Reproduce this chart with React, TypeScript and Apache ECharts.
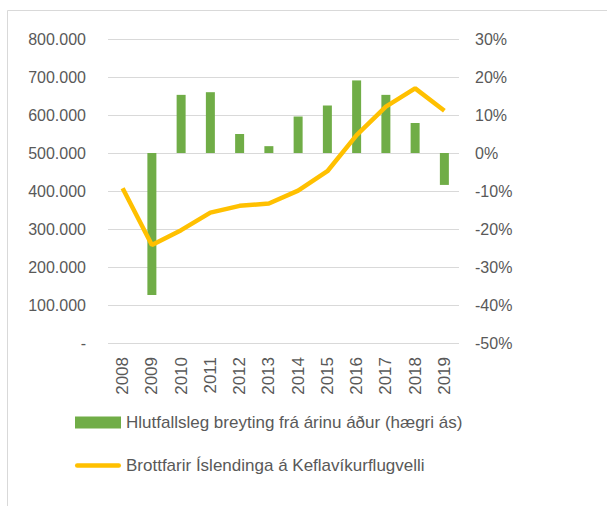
import React, { useEffect, useRef } from "react";
import * as echarts from "echarts";

const years = ["2008", "2009", "2010", "2011", "2012", "2013", "2014", "2015", "2016", "2017", "2018", "2019"];
const changePct = [null, -37.4, 15.3, 16.0, 5.0, 1.8, 9.6, 12.5, 19.1, 15.3, 7.9, -8.4];
const departures = [407000, 258000, 297000, 343000, 361000, 367000, 401000, 452000, 547000, 622000, 670000, 611000];
const barName = "Hlutfallsleg breyting frá árinu áður (hægri ás)";
const lineName = "Brottfarir Íslendinga á Keflavíkurflugvelli";

const FONT = "Liberation Sans";

export default function App() {
  const ref = useRef<HTMLDivElement>(null);
  useEffect(() => {
    document.body.style.margin = "0";
    const chart = echarts.init(ref.current!, null, { renderer: "svg" });
    chart.setOption({
      animation: false,
      textStyle: { fontFamily: FONT },
      graphic: [
        {
          type: "rect",
          shape: { x: 7.5, y: 10.5, width: 700, height: 600 },
          style: { fill: "none", stroke: "#d9d9d9", lineWidth: 1 },
          silent: true,
        },
      ],
      grid: { left: 108, right: 148, top: 39, bottom: 163 },
      legend: {
        orient: "vertical",
        left: 70,
        top: 409,
        itemWidth: 46,
        itemHeight: 12,
        itemGap: 26,
        textStyle: { color: "#595959", fontSize: 17, fontFamily: FONT },
        data: [
          { name: barName, icon: "rect" },
          {
            name: lineName,
            icon: "path://M2,0 H44 A2,2 0 0 1 44,4.4 H2 A2,2 0 0 1 2,0 Z",
          },
        ],
      },
      xAxis: {
        type: "category",
        data: years,
        axisLine: { show: false },
        axisTick: { show: false },
        axisLabel: { rotate: 90, color: "#595959", fontSize: 17, margin: 14, fontFamily: FONT },
      },
      yAxis: [
        {
          type: "value",
          min: 0,
          max: 800000,
          interval: 100000,
          axisLine: { show: false },
          axisTick: { show: false },
          splitLine: { lineStyle: { color: "#d9d9d9", width: 1 } },
          axisLabel: {
            color: "#595959",
            fontSize: 16,
            margin: 22,
            fontFamily: FONT,
            formatter: (v: number) => (v === 0 ? "-" : v / 1000 + ".000"),
          },
        },
        {
          type: "value",
          min: -50,
          max: 30,
          interval: 10,
          axisLine: { show: false },
          axisTick: { show: false },
          splitLine: { show: false },
          axisLabel: {
            color: "#595959",
            fontSize: 16,
            margin: 16,
            fontFamily: FONT,
            formatter: (v: number) => v + "%",
          },
        },
      ],
      series: [
        {
          name: barName,
          type: "bar",
          yAxisIndex: 1,
          data: changePct,
          barWidth: 9,
          itemStyle: { color: "#70AD47" },
        },
        {
          name: lineName,
          type: "line",
          yAxisIndex: 0,
          data: departures,
          symbol: "none",
          lineStyle: { color: "#FFC000", width: 4.5 },
          itemStyle: { color: "#FFC000" },
          z: 5,
        },
      ],
    });
    return () => chart.dispose();
  }, []);
  return <div ref={ref} style={{ width: 607, height: 506 }} />;
}
